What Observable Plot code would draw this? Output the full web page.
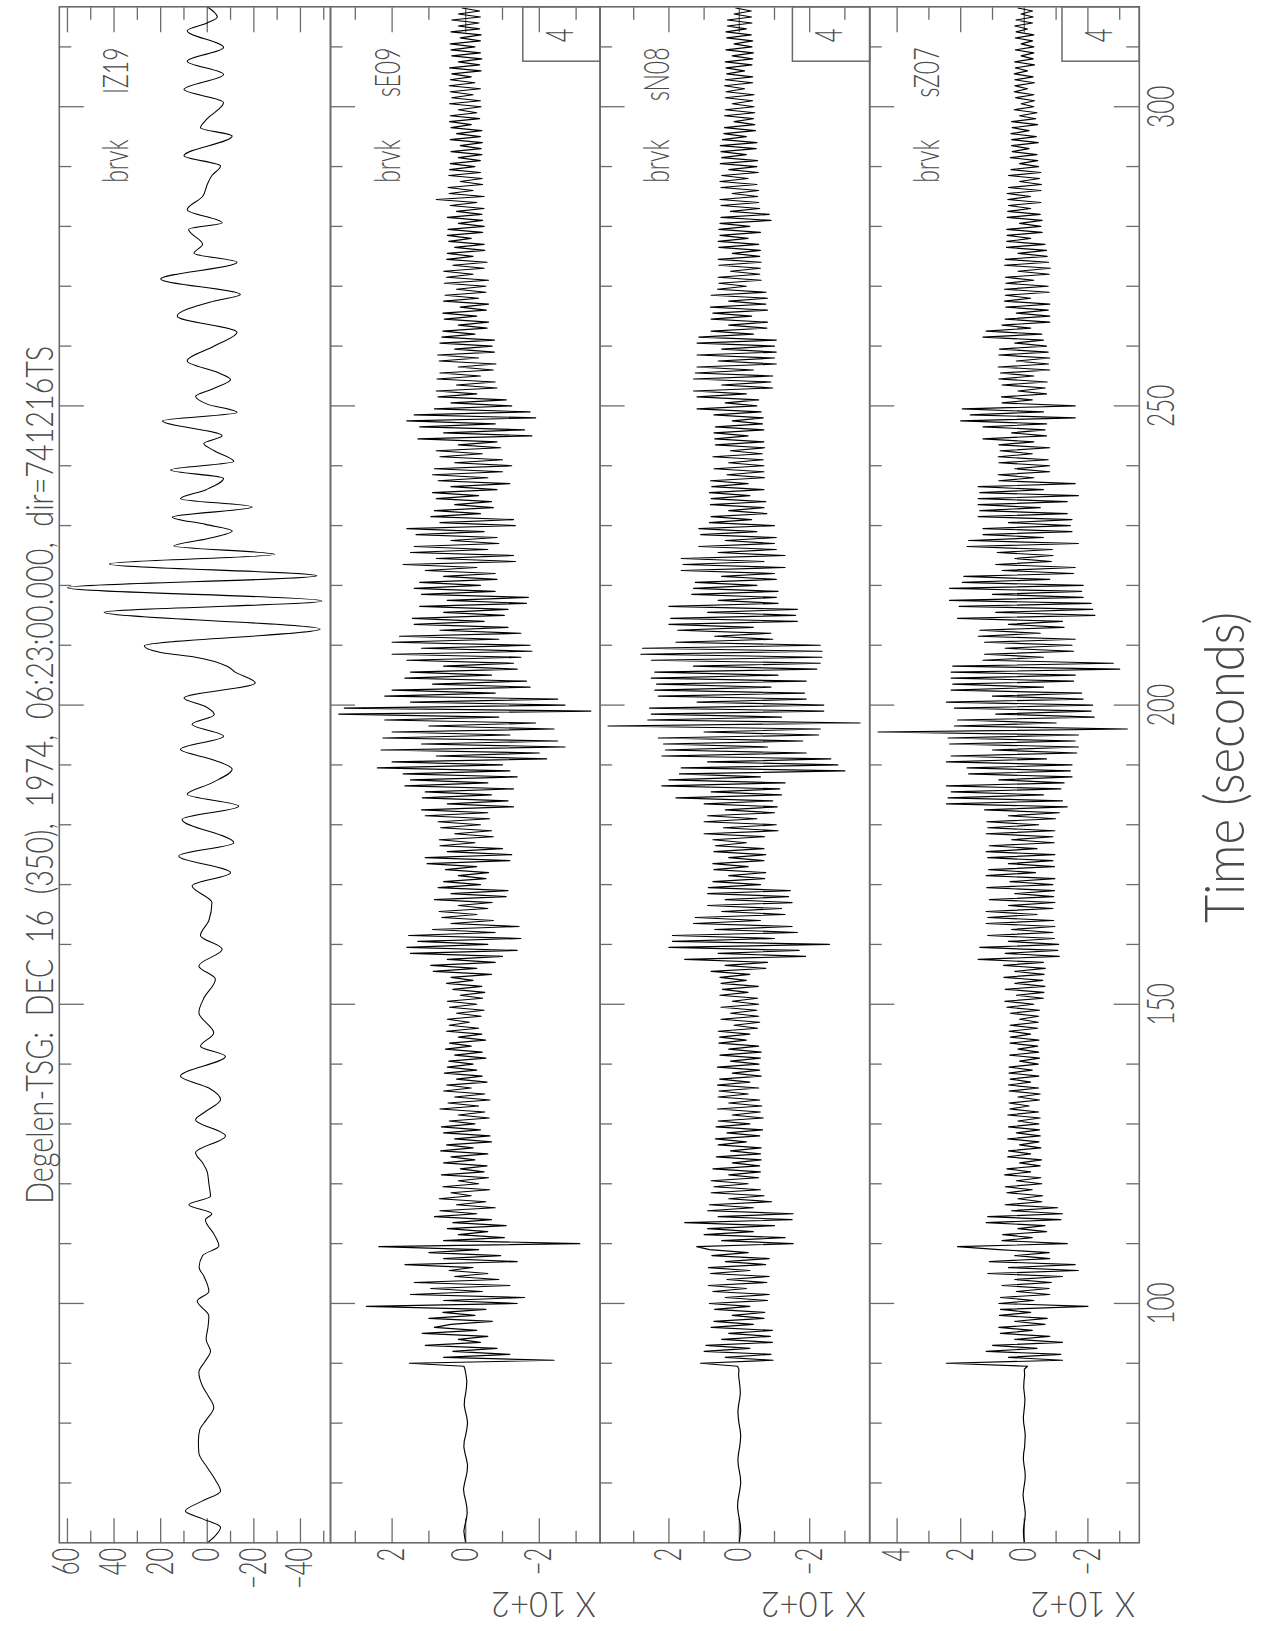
<!DOCTYPE html>
<html><head><meta charset="utf-8">
<script src="https://cdn.jsdelivr.net/npm/d3@7"></script>
<script src="https://cdn.jsdelivr.net/npm/@observablehq/plot@0.6"></script>
<style>
html,body{margin:0;padding:0;background:#fff;}
#page{position:relative;width:1262px;height:1631px;overflow:hidden;background:#fff;}
#land{position:absolute;left:0;top:0;width:1631px;height:1262px;transform-origin:0 0;transform:translate(0px,1631px) rotate(-90deg);}
</style></head><body><div id="page"><div id="land"></div></div>
<script>
// ---------------- data ----------------
const TITLE = "Degelen-TSG:\u00a0\u00a0DEC\u00a0\u00a016\u00a0\u00a0(350),\u00a0\u00a01974,\u00a0\u00a006:23:00.000,\u00a0\u00a0dir=741216TS";
const XLABEL = "Time (seconds)";
const UNIT = "X 10+2";
const network = "brvk";
const stations = ["IZ19", "sE09", "sN08", "sZ07"];
const filterTag = "4";

// time axis (seconds)
const timeDomain = [60, 316.7];
const timeMajor = [100, 150, 200, 250, 300];
const timeMinor = [70, 80, 90, 110, 120, 130, 140, 160, 170, 180, 190, 210, 220, 230, 240, 260, 270, 280, 290, 310];

// IZ19 (long period), knots
const izT = [60,61,62.6,64,65.3,67,68.6,70.5,72.6,75,77,78.9,80.5,82.6,84.5,86,88.5,90.3,92,94,96,97.9,100.4,102,104.6,106,108,109.6,111.5,114,115,116.5,117.9,120,122,123.5,125.2,128,130.7,132,134.1,136,138,141.3,143,145.2,148.6,151,154.2,156.4,159.2,161.5,164,167,169.8,172,174.8,177,180.9,183.1,185.1,187,189.3,190.8,192.6,194.8,196.8,198.4,199.8,201.2,203.7,205.5,206.5,208,208.8,209.9,212.7,215.5,217.4,219.6,221.6,223.6,225.2,226.6,227.8,229.1,230.2,231.4,233.1,234.5,236,237.9,239.3,240.7,242.5,243.7,245,247.5,248.9,250.3,251.6,252.8,254.4,255.5,257.5,260,262.3,265,267.5,268.6,271.2,274,275.5,277,279.5,280.6,282.8,285,287,288.5,290.1,291.8,295.1,296.5,298,300.7,302.9,305.4,307.6,309.9,312.7,314,315,316.7];
const izV = [0,-3,-5.7,2,9.4,2,-5.7,-3.5,0,3.6,3.8,3.2,0.5,-2.8,-0.5,1.8,3.6,1,-1.4,0.5,-0.3,-0.7,4.3,-0.7,1.5,3.5,2,-5,-3,0.8,-2,7.9,-1.4,-0.7,0,2,5,-7.8,5,1,-5.7,-0.7,11.5,-7.8,2.9,-2.8,3.6,1.5,-3.5,3.6,-6.4,2.9,-0.7,-2,6.5,-10,12.2,-11.4,10.8,-13.5,8.6,-2,-10.7,-3,11.5,-7,6.5,-3,1,10,-20.6,-12,-8.5,5,20,27,-48.5,44.3,-49.2,60,-47,42,-29,14.3,0,-10.7,0.7,15,-19.3,11.5,0.5,-7,15.8,-11.4,-3,1.5,-6.4,19.3,-12.8,0,5,-2,-10,-5,8.6,-3,-12.8,12.9,-2.8,-14.2,20,-12.8,5.7,2,8,-6.4,8.6,2,0,-2,-5.7,10,-10.7,2.9,0,-7,10,-7,8.6,-7,8.6,0,-4.3,0];

// short-period traces: pre-event samples every 1 s from 60 s, event samples every 0.5 s from 89.5 s (counts)
const preStart = 60, preStep = 1, evStart = 89.5, evStep = 0.5;
const sE09pre = [0,3,5,2,-2,-4,-3,0,4,6,3,-1,-4,-5,-2,2,5,4,0,-3,-5,-3,1,4,3,0,-2,-3,-1,2];
const sE09 = [
5,153,-240,60,-120,35,-85,110,-40,20,
-60,118,-30,85,40,-72,100,-25,62,-55,
270,-140,60,-160,150,-45,95,-120,140,-90,
30,-60,45,-20,165,-140,60,-95,100,-35,
236,-310,60,-105,20,-60,50,-110,35,-70,
85,-30,70,-80,25,-55,72,-15,40,-65,
62,-35,20,-62,66,-50,15,-58,60,-25,
40,-60,68,-20,52,-70,30,-66,60,-40,
66,-25,45,-64,20,-52,70,-35,48,-66,
30,-52,60,-15,52,-58,25,-45,58,-30,
50,-20,46,-55,30,-45,55,-15,44,-54,
20,-44,52,-35,45,-10,50,-42,25,-50,
44,-30,50,-46,15,-52,35,-44,52,-20,
40,-70,88,-30,95,-80,50,-100,150,-140,
160,-60,130,-150,155,-80,90,-145,40,-75,
65,-30,72,-60,20,-72,85,-110,40,-115,
75,-40,60,-55,20,-62,55,-30,105,-120,
110,-125,50,-100,70,-25,72,-75,30,-70,
68,-40,75,-65,110,-60,120,-130,50,-115,
118,-70,110,-130,165,-60,150,-140,170,-120,
240,-100,200,-220,80,-200,230,-270,120,-250,
225,-120,200,-240,100,-190,220,-90,345,-340,
330,-270,150,-250,220,-80,200,-175,90,-165,
165,-70,150,-140,60,-130,160,-150,200,-180,
120,-175,200,-90,180,-150,70,-115,140,-50,
145,-105,60,-115,125,-165,50,-170,120,-80,
140,-40,125,-85,60,-80,110,-30,170,-135,
80,-130,150,-60,140,-90,40,-85,135,-50,
160,-135,70,-130,95,-40,85,-75,30,-70,
80,-35,90,-85,40,-120,75,-60,90,-100,
85,-125,30,-100,70,-45,80,-95,20,-85,
130,-180,60,-160,125,-80,160,-190,140,-175,
85,-125,40,-110,75,-30,80,-85,25,-80,
78,-40,70,-75,20,-82,72,-35,76,-78,
30,-72,70,-78,65,-25,62,-58,20,-62,
58,-30,62,-56,15,-62,60,-35,56,-55,
25,-55,58,-62,52,-20,60,-50,35,-58,
52,-20,50,-52,30,-50,46,-15,50,-46,
48,-50,20,-46,50,-44,25,-50,42,-30,
80,-50,45,-20,48,-46,15,-45,46,-40,
44,-25,42,-40,20,-44,40,-42,15,-45,
42,-40,25,-44,40,-15,44,-38,42,-30,
20,-42,44,-40,38,-20,42,-40,45,-25,
42,-15,38,-42,44,-38,20,-44,38,-40,
40,-25,42,-40,15,-42,40,-38,20,-36,
38,-40,20,-38,10];

const sN08pre = [0,-2,-4,-3,0,3,5,4,1,-2,-4,-3,0,3,4,2,-1,-3,-4,-2,1,3,4,2,-1,-3,-2,0,2,1];
const sN08 = [
5,110,-96,40,-90,100,-30,95,-94,50,
-88,30,-94,80,-40,72,-70,20,-72,70,
-30,85,-80,40,-85,75,-20,88,-78,35,
-85,82,-30,88,-75,40,-85,78,-25,85,
121,-153,50,-130,100,-40,90,-100,155,-150,
60,-153,90,-40,85,-92,30,-70,80,-60,
72,-25,80,-55,30,-60,75,-58,20,-62,
65,-60,25,-62,60,-20,68,-58,35,-66,
66,-30,60,-68,20,-60,62,-64,30,-58,
60,-25,58,-55,62,-30,56,-62,20,-58,
62,-56,25,-60,55,-62,30,-55,58,-20,
56,-30,60,-52,15,-58,52,-55,25,-50,
52,-55,20,-52,55,-25,48,-54,52,-20,
55,-30,80,-75,40,-80,155,-188,60,-170,
200,-256,190,-100,190,-165,70,-150,130,-60,
125,-130,50,-120,90,-150,40,-140,90,-145,
88,-60,75,-72,30,-75,72,-25,75,-70,
30,-75,72,-70,68,-20,75,-72,100,-110,
45,-105,100,-50,90,-100,40,-108,100,-95,
180,-120,80,-115,220,-130,200,-60,170,-300,
165,-280,90,-260,220,-190,210,-80,215,-180,
230,-225,100,-230,373,-343,260,-120,250,-240,
255,-240,120,-190,230,-185,240,-90,235,-190,
250,-110,240,-220,130,-230,250,-235,280,-235,
275,-230,180,-95,70,-90,175,-40,200,-165,
195,-160,90,-165,200,-110,60,-105,135,-110,
130,-50,125,-105,50,-100,165,-130,160,-70,
165,-130,60,-105,115,-100,40,-105,110,-50,
115,-100,85,-35,80,-78,30,-70,82,-75,
80,-30,85,-70,78,-25,82,-72,35,-70,
72,-70,30,-68,75,-65,25,-72,68,-70,
70,-25,72,-70,68,-66,20,-68,72,-62,
120,-50,40,-55,120,-20,130,-95,50,-90,
130,-95,125,-40,120,-105,60,-100,120,-105,
50,-100,120,-105,115,-40,80,-78,30,-80,
80,-35,75,-80,82,-75,30,-80,80,-76,
62,-20,58,-62,60,-58,25,-60,58,-62,
60,-58,20,-60,58,-55,60,-25,55,-60,
58,-30,55,-90,52,-85,25,-58,52,-55,
55,-52,20,-55,52,-50,55,-25,50,-54,
30,-50,54,-52,50,-20,52,-48,54,-50,
48,-20,44,-46,42,-44,15,-40,42,-44,
40,-42,20,-38,40,-42,38,-15,42,-38,
40,-38,36,-15,38,-36,40,-38,20,-40,
38,-36,15,-38,36,-34,38,-20,34,-36,
34,-35,15,-34,10];

const sZ07pre = [0,2,3,1,-2,-3,-1,2,4,2,-1,-3,-2,1,3,2,-1,-2,-3,-1,2,3,1,-1,-2,0,2,1,-1,0];
const sZ07 = [
-10,245,-120,50,-115,120,-40,100,-120,30,
-80,75,-25,80,-65,30,-72,78,-20,75,
-200,80,-30,75,-80,25,-78,70,-85,30,
-120,115,-170,50,-160,110,-80,30,-78,80,
210,-135,70,-25,68,-70,20,-65,120,-115,
115,-120,40,-105,60,-55,20,-58,55,-25,
60,-55,25,-52,62,-20,55,-50,15,-54,
52,-20,50,-52,15,-46,52,-50,25,-48,
50,-46,20,-50,52,-45,46,-15,48,-48,
20,-50,48,-45,50,-20,45,-46,48,-25,
48,-44,15,-48,46,-45,20,-42,45,-46,
44,-20,48,-42,45,-44,15,-45,44,-48,
55,-30,62,-60,25,-62,60,-65,30,-58,
64,-62,30,-66,65,-60,145,-110,60,-105,
140,-108,50,-95,115,-90,40,-96,120,-92,
115,-40,120,-90,50,-96,110,-92,30,-95,
118,-90,45,-96,120,-35,112,-95,50,-90,
115,-96,120,-40,110,-94,40,-90,120,-96,
115,-45,118,-98,50,-110,125,-135,245,-120,
240,-60,230,-115,245,-125,80,-150,175,-145,
180,-150,245,-70,230,-165,100,-170,235,-160,
240,-170,460,-324,220,-100,210,-220,90,-210,
220,-215,245,-185,100,-180,230,-60,225,-155,
230,-160,230,-300,225,-280,130,-60,125,-155,
60,-150,125,-160,145,-50,140,-125,50,-120,
210,-222,90,-215,205,-210,235,-185,100,-180,
235,-185,195,-80,190,-155,70,-160,90,-85,
30,-90,85,-88,180,-170,175,-60,130,-150,
130,-145,50,-150,145,-135,140,-50,145,-135,
145,-170,140,-60,145,-160,80,-30,82,-80,
30,-80,80,-75,82,-25,76,-80,80,-30,
130,-70,40,-65,130,-70,200,-160,170,-60,
195,-160,70,-25,72,-70,20,-66,70,-72,
80,-30,75,-80,82,-76,25,-80,80,-75,
78,-70,30,-60,130,-55,120,-20,70,-80,
60,-80,25,-75,58,-80,62,-20,60,-78,
62,-75,58,-30,60,-78,20,-82,62,-76,
60,-72,20,-70,56,-65,55,-20,54,-56,
55,-52,15,-56,54,-50,52,-20,50,-52,
52,-20,54,-52,50,-54,15,-48,50,-52,
42,-45,15,-42,44,-40,38,-15,40,-44,
40,-38,42,-15,38,-42,40,-36,15,-40,
32,-30,10,-32,28,-30,32,-10,30,-32,
30,-28,32,-10,28,-32,30,-28,10,-30,
28,-30,10,-26,28,-30,26,-10,30,-26,
26,-28,10,-26,20];

// amplitude ticks and labels
const izMajor = [60, 40, 20, 0, -20, -40];
const izMinor = [50, 30, 10, -10, -30, -50];
const izLabels = ["60", "40", "20", "0", "\u221220", "\u221240"];
const spMajor = [200, 0, -200];
const spMinor = [300, 100, -100, -300];
const spLabels = ["2", "0", "\u22122"];
const z7Major = [400, 200, 0, -200];
const z7Labels = ["4", "2", "0", "\u22122"];

// ---------------- layout ----------------
const W = 1631, H = 1262, ML = 87.7, MR = 7.3;
const FRAME = "#6b6b6b", TEXT = "#4a4a4a", FONT = "Lato";
const KX = 0.64;

function series(pre, ev) {
  return pre.map((v, i) => ({t: preStart + i * preStep, v}))
    .concat(ev.map((v, i) => ({t: evStart + i * evStep, v})));
}
const panels = [
  {top: 58.8, bottom: 330, domain: [-52.9, 63.5], data: izT.map((t, i) => ({t, v: izV[i]})), curve: "monotone-x",
   major: izMajor, minor: izMinor, labels: izLabels, name: stations[0], box: false, title: true},
  {top: 330, bottom: 599.6, domain: [-365.2, 367.4], data: series(sE09pre, sE09), curve: "linear",
   major: spMajor, minor: spMinor, labels: spLabels, name: stations[1], box: true},
  {top: 599.6, bottom: 869.2, domain: [-370.5, 395.5], data: series(sN08pre, sN08), curve: "linear",
   major: spMajor, minor: spMinor, labels: spLabels, name: stations[2], box: true},
  {top: 869.2, bottom: 1138.8, domain: [-361.6, 486.2], data: series(sZ07pre, sZ07), curve: "linear",
   major: z7Major, minor: spMinor, labels: z7Labels, name: stations[3], box: true, last: true}
];

function panelPlot(p) {
  const iw = W - ML - MR, ih = p.bottom - p.top;
  const tick = {stroke: FRAME, strokeWidth: 1.3};
  const txt = {fill: TEXT, fontFamily: FONT, fontWeight: 300};
  const marks = [
    Plot.tickY(p.major, {y: d => d, ...tick, insetRight: iw - 25}),
    Plot.tickY(p.minor, {y: d => d, ...tick, insetRight: iw - 12.5}),
    Plot.tickY(p.major, {y: d => d, ...tick, insetLeft: iw - 25}),
    Plot.tickY(p.minor, {y: d => d, ...tick, insetLeft: iw - 12.5}),
    Plot.tickX(timeMajor, {x: d => d, ...tick, insetBottom: ih - 25}),
    Plot.tickX(timeMinor, {x: d => d, ...tick, insetBottom: ih - 12.5}),
    Plot.line(p.data, {x: "t", y: "v", stroke: "#000", strokeWidth: p.curve === "linear" ? 1.15 : 1.05, curve: p.curve}),
    Plot.frame({stroke: FRAME, strokeWidth: 1.6}),
    Plot.text(p.major, {y: d => d, text: (d, i) => p.labels[i], frameAnchor: "left", textAnchor: "end", lineAnchor: "middle", dx: -5, fontSize: 37, ...txt}),
    Plot.text([network], {text: d => d, frameAnchor: "top-right", textAnchor: "end", lineAnchor: "bottom", dx: -132.7, dy: 69, fontSize: 36, ...txt}),
    Plot.text([p.name], {text: d => d, frameAnchor: "top-right", textAnchor: "end", lineAnchor: "bottom", dx: -40.7, dy: 69, fontSize: 36, ...txt})
  ];
  if (p.box) {
    marks.push(
      Plot.frame({stroke: FRAME, strokeWidth: 1.5, insetLeft: iw - 54.4, insetTop: ih - 77.3}),
      Plot.text([filterTag], {text: d => d, frameAnchor: "bottom-right", textAnchor: "middle", lineAnchor: "middle", dx: -28.7, dy: -39.1, fontSize: 37, ...txt}),
      Plot.text([UNIT], {text: d => d, frameAnchor: "bottom-left", rotate: -90, textAnchor: "start", lineAnchor: "bottom", dx: 38.5 - ML, dy: -4, fontSize: 35, ...txt})
    );
  }
  if (p.title) {
    marks.push(Plot.text([TITLE], {text: d => d, frameAnchor: "top", textAnchor: "middle", lineAnchor: "bottom", dy: -6.8, fontSize: 37, ...txt}));
  }
  if (p.last) {
    marks.push(
      Plot.tickX(timeMajor, {x: d => d, ...tick, insetTop: ih - 25}),
      Plot.tickX(timeMinor, {x: d => d, ...tick, insetTop: ih - 12.5}),
      Plot.text(timeMajor, {x: d => d, text: d => String(d), frameAnchor: "bottom", lineAnchor: "top", textAnchor: "middle", dy: 8, fontSize: 38, ...txt}),
      Plot.text([XLABEL], {text: d => d, frameAnchor: "bottom", textAnchor: "middle", lineAnchor: "bottom", dx: 7.3, dy: 104.7, fontSize: 56, ...txt})
    );
  }
  return Plot.plot({
    width: W, height: H,
    marginLeft: ML, marginRight: MR, marginTop: p.top, marginBottom: H - p.bottom,
    x: {domain: timeDomain, axis: null},
    y: {domain: p.domain, axis: null},
    style: {background: "transparent", overflow: "visible", fontFamily: FONT},
    marks
  });
}

const svgs = panels.map(panelPlot);
const root = svgs[0];
for (const s of svgs.slice(1)) { while (s.firstChild) root.appendChild(s.firstChild); }
root.style.background = "#fff";

// condensed lettering (the original plot font is tall and narrow)
const FIT = new Map([[TITLE, 858], [XLABEL, 311], [UNIT, 105]]);
root.querySelectorAll("text").forEach(el => {
  const s = el.textContent;
  if (FIT.has(s)) {
    el.setAttribute("textLength", FIT.get(s));
    el.setAttribute("lengthAdjust", "spacingAndGlyphs");
    return;
  }
  let tr = el.getAttribute("transform") || "";
  for (const a of ["x", "y"]) {
    const v = el.getAttribute(a);
    if (v != null && /^-?[\d.]+$/.test(v)) {
      tr += a === "x" ? ` translate(${v},0)` : ` translate(0,${v})`;
      el.removeAttribute(a);
    }
  }
  el.setAttribute("transform", (tr + ` scale(${KX},1)`).trim());
});
document.getElementById("land").appendChild(root);
</script></body></html>
